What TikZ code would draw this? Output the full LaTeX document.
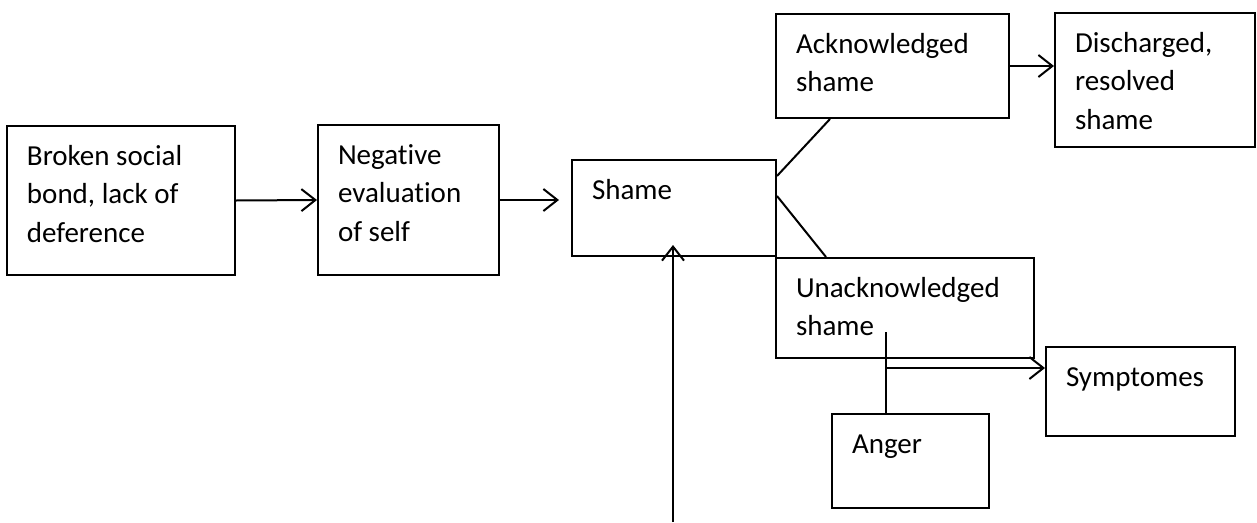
\documentclass[tikz,border=0pt]{standalone}
\usepackage{fontspec}
\setmainfont{Carlito}[Ligatures=NoCommon]
\usetikzlibrary{arrows.meta}

\begin{document}
\begin{tikzpicture}[x=1pt,y=-1pt,line width=2pt,
    >={Straight Barb[length=14pt,width=22pt]},
    box/.style={draw,anchor=north west,align=flush left,inner xsep=20pt,inner ysep=0pt,
      font=\fontsize{29}{38.5}\selectfont,text height=39pt}]
    \useasboundingbox (0,0) rectangle (1257,522);

    \node[box,text width=188pt,text depth=110pt] (bond) at (6,125) {Broken social bond, lack of deference};
    \node[box,text width=141pt,text depth=111pt] (neg) at (317,124) {Negative evaluation of self};
    \node[box,text width=164pt,text depth=57pt] (shame) at (571,159) {Shame};
    \node[box,text width=193pt,text depth=65pt] (ack) at (775,13) {Acknowledged shame};
    \node[box,text width=160pt,text depth=95pt] (dis) at (1054,12) {Discharged, resolved shame};
    \node[box,text width=218pt,text depth=61pt] (unack) at (775,257) {Unacknowledged shame};
    \node[box,text width=149pt,text depth=50pt] (sympt) at (1045,346) {Symptomes};
    \node[box,text width=117pt,text depth=55pt] (anger) at (831,413) {Anger};

    \coordinate (tap) at (886,332);
    \coordinate (fork) at (886,368);
    \coordinate (feed) at (673,522);

    \draw[->] (bond.east) -- (neg.west);
    \draw[->,shorten >=12pt] (neg.east) -- (neg.east -| shame.west);
    \draw[->] (ack.east) -- (ack.east -| dis.west);
    \draw ([yshift=32pt]shame.east) -- ([xshift=55pt]ack.south west);
    \draw ([yshift=12pt]shame.east) -- ([xshift=51pt]unack.north west);
    \draw (tap) -- (tap |- anger.north);
    \draw[->] (fork) -- (fork -| sympt.west);
    \draw[->,shorten >=-12pt] (feed) -- (feed |- shame.south);
\end{tikzpicture}
\end{document}
